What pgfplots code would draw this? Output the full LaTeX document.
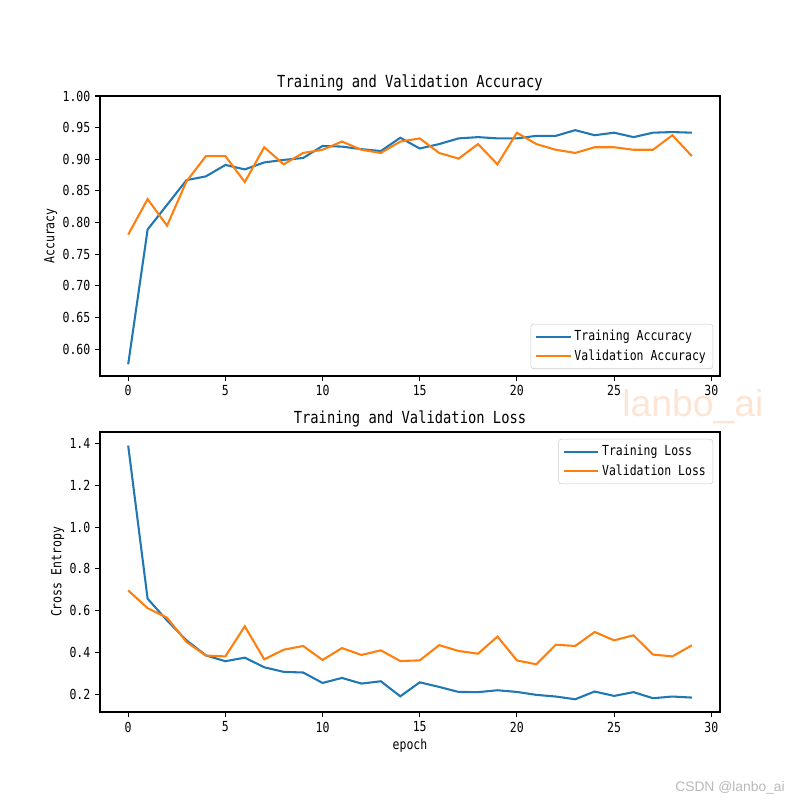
\documentclass[border=0pt]{standalone}
\usepackage{fontspec}
\setmainfont{DejaVu Sans Mono}[FakeStretch=0.83]
\newfontfamily\wmfont{Liberation Sans}
\usepackage{pgfplots}
\pgfplotsset{compat=1.18}
\definecolor{tabblue}{HTML}{1F77B4}
\definecolor{taborange}{HTML}{FF7F0E}
\definecolor{wmorange}{RGB}{253,229,214}
\definecolor{wmgray}{RGB}{185,185,185}

\pgfplotstableread{
ep tacc vacc tloss vloss
0 0.576 0.781 1.390 0.697
1 0.789 0.837 0.657 0.612
2 0.828 0.795 0.553 0.566
3 0.867 0.865 0.458 0.450
4 0.873 0.905 0.386 0.385
5 0.891 0.905 0.358 0.381
6 0.884 0.864 0.375 0.525
7 0.895 0.919 0.329 0.367
8 0.899 0.892 0.307 0.413
9 0.902 0.910 0.304 0.431
10 0.921 0.915 0.254 0.364
11 0.920 0.928 0.278 0.421
12 0.916 0.915 0.251 0.388
13 0.913 0.910 0.262 0.410
14 0.934 0.928 0.190 0.359
15 0.917 0.933 0.257 0.362
16 0.924 0.910 0.235 0.435
17 0.933 0.901 0.211 0.407
18 0.935 0.924 0.210 0.394
19 0.933 0.892 0.219 0.476
20 0.933 0.942 0.211 0.362
21 0.937 0.924 0.197 0.343
22 0.937 0.915 0.189 0.437
23 0.946 0.910 0.176 0.431
24 0.938 0.919 0.213 0.498
25 0.942 0.919 0.192 0.458
26 0.935 0.915 0.210 0.482
27 0.942 0.915 0.181 0.390
28 0.943 0.938 0.189 0.381
29 0.942 0.905 0.184 0.434
}\hist

\pgfplotsset{
  mpl/.style={
    scale only axis,
    width=6.2in, height=2.8in,
    anchor=south west,
    xmin=-1.45, xmax=30.45,
    xtick={0,5,10,15,20,25,30},
    tick pos=left,
    tick align=outside,
    major tick length=3.5pt,
    every tick/.style={black, line width=0.8pt},
    axis line style={line width=0.8pt},
    /pgf/number format/assume math mode=true,
    tick label style={font=\fontsize{10}{12}\selectfont},
    label style={font=\fontsize{10}{12}\selectfont},
    ylabel shift=-3pt,
    xlabel shift=-2pt,
    title style={font=\fontsize{12}{14}\selectfont, at={(0.5,1)}, anchor=base, yshift=0pt, inner sep=0pt},
    legend style={font=\fontsize{10}{12}\selectfont, draw=black!20, rounded corners=2pt,
      fill=white, fill opacity=0.8, text opacity=1, inner xsep=3pt, inner ysep=2.5pt,
      row sep=1pt},
    legend cell align=left,
    legend image code/.code={\draw[#1, line width=1.5pt] (0pt,0pt) -- (21pt,0pt); \path (0pt,0pt) -- (25pt,0pt);},
    every axis plot/.append style={line width=1.5pt},
  }
}

\begin{document}
\begin{tikzpicture}
\useasboundingbox (0,0) rectangle (8in,8in);
\begin{axis}[mpl,
  at={(1in,4.24in)},
  ymin=0.5575, ymax=1.0,
  ytick={0.60,0.65,0.70,0.75,0.80,0.85,0.90,0.95,1.00},
  yticklabel style={/pgf/number format/.cd, fixed, fixed zerofill, precision=2},
  title={Training and Validation Accuracy},
  ylabel={Accuracy},
  legend style={at={(0.9888,0.0248)}, anchor=south east},
]
\addplot[tabblue] table[x=ep, y=tacc] {\hist};
\addlegendentry{Training Accuracy}
\addplot[taborange] table[x=ep, y=vacc] {\hist};
\addlegendentry{Validation Accuracy}
\end{axis}

\begin{axis}[mpl,
  at={(1in,0.88in)},
  ymin=0.115, ymax=1.455,
  ytick={0.2,0.4,0.6,0.8,1.0,1.2,1.4},
  yticklabel style={/pgf/number format/.cd, fixed, fixed zerofill, precision=1},
  title={Training and Validation Loss},
  ylabel={Cross Entropy},
  xlabel={epoch},
  legend style={at={(0.9888,0.9752)}, anchor=north east},
]
\addplot[tabblue] table[x=ep, y=tloss] {\hist};
\addlegendentry{Training Loss}
\addplot[taborange] table[x=ep, y=vloss] {\hist};
\addlegendentry{Validation Loss}
\end{axis}

\node[anchor=base west, inner sep=0pt, text=wmorange, font=\wmfont\fontsize{27}{30}\selectfont] at (6.22in,3.833in) {lanbo\_ai};
\node[anchor=base west, inner sep=0pt, text=wmgray, font=\wmfont\fontsize{10}{12}\selectfont] at (6.75in,0.09in) {CSDN @lanbo\_ai};
\end{tikzpicture}
\end{document}
